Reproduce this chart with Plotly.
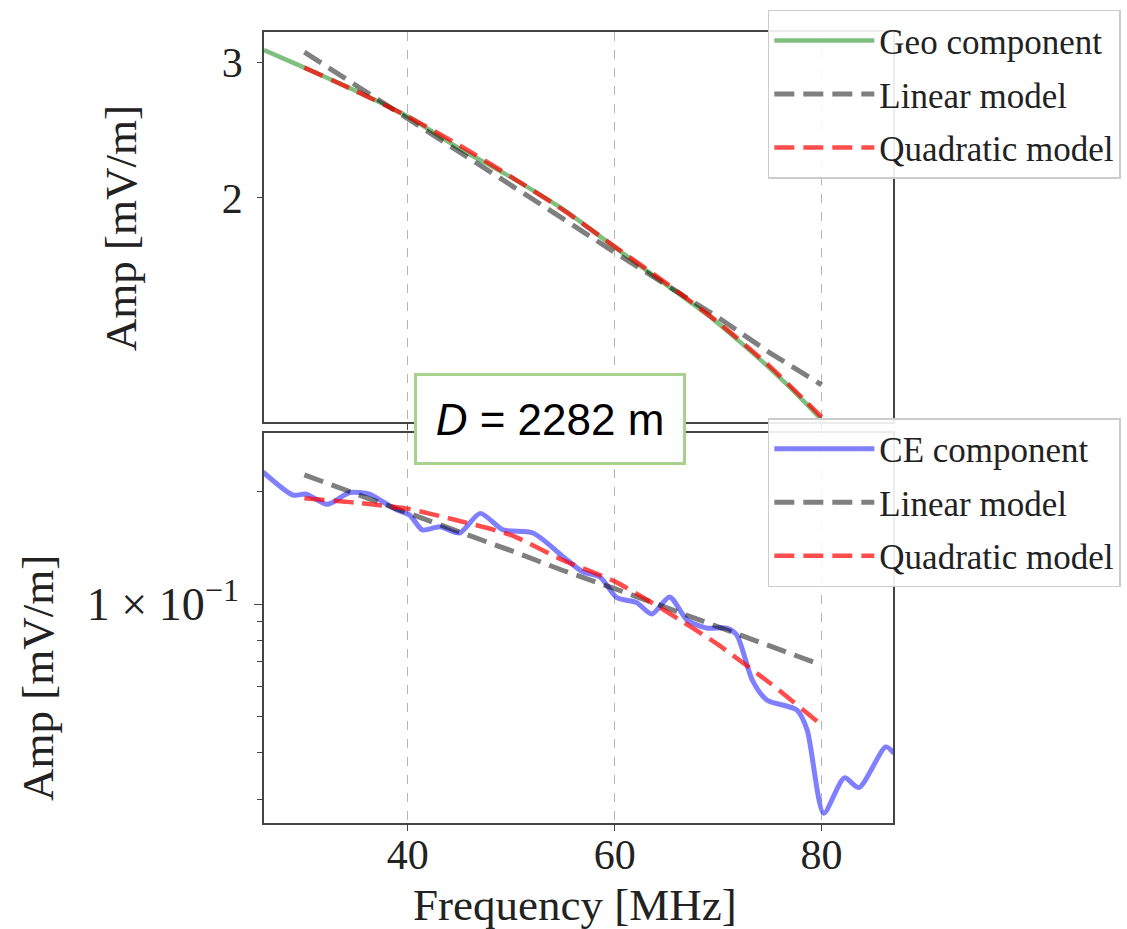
import plotly.graph_objects as go

# ---------------- data ----------------
geo_freq = [26.1, 30, 34.8, 40, 44.7, 49.9, 55.1, 59.9, 64.8, 69.6, 74.8, 79.1, 80, 81]
geo_amp = [3.11, 2.95, 2.76, 2.55, 2.33, 2.13, 1.93, 1.73, 1.55, 1.39, 1.21, 1.063, 1.031, 1.0]

model_freq = [30, 35, 40, 45, 50, 55, 60, 65, 70, 75, 80]
geo_linear = [3.09, 2.80, 2.53, 2.29, 2.08, 1.88, 1.70, 1.54, 1.40, 1.26, 1.145]
geo_quad = [2.95, 2.75, 2.55, 2.34, 2.13, 1.93, 1.73, 1.55, 1.38, 1.21, 1.04]

ce_freq = [26.0, 28.9, 30.2, 32.2, 34.4, 36.3, 37.6, 38.9, 40.2, 41.4, 43.1, 45.0, 47.0,
           49.2, 52.1, 55.0, 56.9, 58.6, 60.2, 62.1, 63.6, 65.3, 67.0, 68.9, 70.8, 71.8,
           73.3, 74.7, 77.6, 78.6, 80.2, 82.2, 83.6, 86.2, 87.0]
ce_amp = [0.226, 0.196, 0.197, 0.185, 0.199, 0.197, 0.188, 0.179, 0.173, 0.158, 0.161, 0.155,
          0.175, 0.158, 0.155, 0.134, 0.122, 0.118, 0.104, 0.101, 0.094, 0.1045, 0.0906,
          0.0862, 0.0862, 0.0826, 0.0625, 0.0553, 0.052, 0.046, 0.0275, 0.0342, 0.0322,
          0.0414, 0.0398]
ce_linear = [0.222, 0.197, 0.175, 0.156, 0.139, 0.123, 0.110, 0.0976, 0.0868, 0.0771, 0.0686]
ce_quad = [0.192, 0.187, 0.180, 0.167, 0.153, 0.131, 0.115, 0.0955, 0.0778, 0.0614, 0.0474]

x_ticks = [40, 60, 80]
top_ticks = [2, 3]
bottom_major = [0.1]
bottom_minor = [0.03, 0.04, 0.05, 0.06, 0.07, 0.08, 0.09, 0.2]

# ---------------- styles ----------------
GREEN = "rgba(0,128,0,0.5)"
BLUE = "rgba(0,0,255,0.5)"
GRAY = "rgba(0,0,0,0.5)"
RED = "rgba(255,0,0,0.7)"
DASH = "20px,9px"
SERIF = "Liberation Serif, DejaVu Serif, serif"

fig = go.Figure()

fig.add_trace(go.Scatter(x=geo_freq, y=geo_amp, mode="lines", name="Geo component",
                         line=dict(color=GREEN, width=4.5, shape="spline", smoothing=0.6),
                         xaxis="x", yaxis="y", legend="legend", legendgroup="g1"))
fig.add_trace(go.Scatter(x=model_freq, y=geo_linear, mode="lines", name="Linear model",
                         line=dict(color=GRAY, width=5, dash=DASH),
                         xaxis="x", yaxis="y", legend="legend", legendgroup="g2"))
fig.add_trace(go.Scatter(x=model_freq, y=geo_quad, mode="lines", name="Quadratic model",
                         line=dict(color=RED, width=4.5, dash=DASH, shape="spline", smoothing=0.6),
                         xaxis="x", yaxis="y", legend="legend", legendgroup="g3"))

fig.add_trace(go.Scatter(x=ce_freq, y=ce_amp, mode="lines", name="CE component",
                         line=dict(color=BLUE, width=5, shape="spline", smoothing=0.7),
                         xaxis="x2", yaxis="y2", legend="legend2", legendgroup="h1"))
fig.add_trace(go.Scatter(x=model_freq, y=ce_linear, mode="lines", name="Linear model",
                         line=dict(color=GRAY, width=5, dash=DASH),
                         xaxis="x2", yaxis="y2", legend="legend2", legendgroup="h2"))
fig.add_trace(go.Scatter(x=model_freq, y=ce_quad, mode="lines", name="Quadratic model",
                         line=dict(color=RED, width=4.5, dash=DASH, shape="spline", smoothing=0.6),
                         xaxis="x2", yaxis="y2", legend="legend2", legendgroup="h3"))

axis_line = dict(showline=True, mirror=True, linecolor="#444", linewidth=1.5, zeroline=False)
xcommon = dict(range=[26.1, 86.9], tickvals=x_ticks, ticks="outside", ticklen=6,
               tickcolor="#444", showgrid=True, gridcolor="#b5b5b5", gridwidth=0.8,
               griddash="dash", **axis_line)

legend_common = dict(font=dict(family=SERIF, size=35, color="#222"),
                     bgcolor="rgba(255,255,255,0.9)", bordercolor="#cccccc", borderwidth=1.5,
                     xanchor="left", yanchor="top", tracegroupgap=5, itemwidth=100,
                     traceorder="grouped")

fig.update_layout(
    width=1127, height=929, autosize=False,
    margin=dict(l=264, r=234, t=32, b=106, autoexpand=False),
    paper_bgcolor="white", plot_bgcolor="white",
    font=dict(family=SERIF, color="#222"),
    xaxis=dict(domain=[0, 1], anchor="y", showticklabels=False, **xcommon),
    xaxis2=dict(domain=[0, 1], anchor="y2", showticklabels=True, ticklabelstandoff=-12,
                tickfont=dict(family=SERIF, size=42, color="#222"), **xcommon),
    yaxis=dict(domain=[0.507, 1.0], anchor="x", type="log", range=[0.0108, 0.516],
               tickvals=top_ticks, ticktext=[str(t) for t in top_ticks],
               ticks="outside", ticklen=5, tickcolor="#444", showgrid=False,
               tickfont=dict(family=SERIF, size=42, color="#222"), ticklabelstandoff=6,
               **axis_line),
    yaxis2=dict(domain=[0, 0.493], anchor="x2", type="log", range=[-1.587, -0.5416],
                tickvals=bottom_major, ticktext=["1 × 10<sup>−1</sup>"],
                ticks="outside", ticklen=8, tickcolor="#444", showgrid=False,
                tickfont=dict(family=SERIF, size=46, color="#222"), ticklabelstandoff=6,
                minor=dict(tickvals=bottom_minor, ticks="outside", ticklen=5,
                           tickcolor="#444", showgrid=False),
                **axis_line),
    legend=dict(x=0.801, y=1.028, **legend_common),
    legend2=dict(x=0.801, y=0.512, **legend_common),
    showlegend=True,
)

fig.add_annotation(text="Frequency [MHz]", xref="paper", yref="paper", x=0.494, y=-0.104,
                   xanchor="center", yanchor="middle", showarrow=False,
                   font=dict(family=SERIF, size=45, color="#222"))
fig.add_annotation(text="Amp [mV/m]", xref="paper", yref="paper", x=-0.2273, y=0.752,
                   xanchor="center", yanchor="middle", showarrow=False, textangle=-90,
                   font=dict(family=SERIF, size=45, color="#222"))
fig.add_annotation(text="Amp [mV/m]", xref="paper", yref="paper", x=-0.3593, y=0.1833,
                   xanchor="center", yanchor="middle", showarrow=False, textangle=-90,
                   font=dict(family=SERIF, size=45, color="#222"))

fig.add_annotation(text="<i>D</i> = 2282 m", xref="paper", yref="paper", x=0.4547, y=0.5107,
                   xanchor="center", yanchor="middle", showarrow=False,
                   width=262, height=82, bgcolor="white", bordercolor="#a9d18e",
                   borderwidth=3, borderpad=2,
                   font=dict(family="Liberation Sans Narrow, Liberation Sans, sans-serif",
                             size=44, color="black"))

fig.write_html("out.html")
